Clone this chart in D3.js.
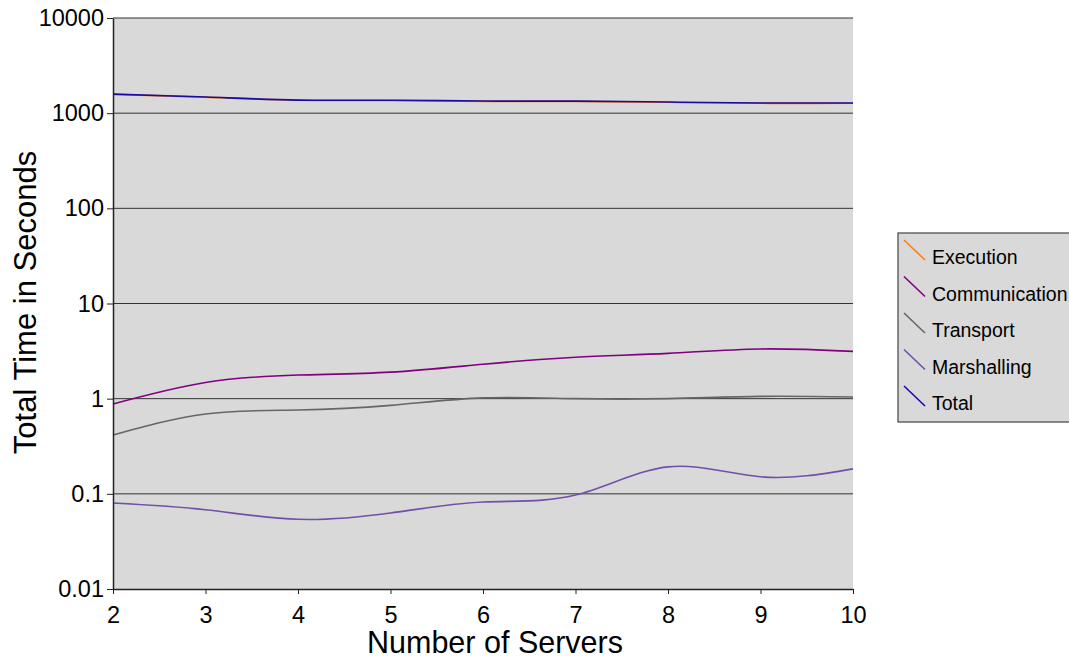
<!DOCTYPE html>
<html lang="en">
<head>
    <meta charset="UTF-8">
    <title>total_time</title>
    <script src="https://cdn.jsdelivr.net/npm/d3@7"></script>
    <style>
        body { margin: 0; background: #fff; }
        text { font-family: "Liberation Sans", Arial, Helvetica, sans-serif; }
    </style>
</head>
<body>
    <svg width="1069" height="657" id="mainsvg"></svg>
    <script>
        // servers on the x axis
        const servers = [2, 3, 4, 5, 6, 7, 8, 9, 10];
        // seconds
        const execution     = [1575, 1475, 1365, 1360, 1330, 1330, 1300, 1270, 1270];
        const communication = [0.88, 1.48, 1.77, 1.9, 2.3, 2.72, 2.99, 3.33, 3.14];
        const transport     = [0.415, 0.69, 0.76, 0.85, 1.02, 1.0, 1.0, 1.057, 1.04];
        const marshalling   = [0.080, 0.068, 0.054, 0.063, 0.082, 0.097, 0.192, 0.151, 0.183];
        const total         = [1585, 1480, 1372, 1368, 1340, 1338, 1308, 1280, 1278];

        const seriesNames  = ['Execution', 'Communication', 'Transport', 'Marshalling', 'Total'];
        const seriesColors = ['#ff7f0e', '#800080', '#666666', '#7050a8', '#1a0aa8'];
        const yTicks = [0.01, 0.1, 1, 10, 100, 1000, 10000];
        const yTickLabels = ['0.01', '0.1', '1', '10', '100', '1000', '10000'];

        const series = [execution, communication, transport, marshalling, total];

        const svg = d3.select('svg');
        const margin = {top: 18, left: 113};
        const innerWidth = 740;
        const innerHeight = 571;
        const g = svg.append('g').attr('transform', `translate(${margin.left}, ${margin.top})`);

        const xScale = d3.scaleLinear().domain([2, 10]).range([0, innerWidth]);
        const yScale = d3.scaleLog().domain([0.01, 10000]).range([innerHeight, 0]);

        g.append('rect')
            .attr('width', innerWidth).attr('height', innerHeight)
            .attr('fill', '#d9d9d9');

        // grid lines
        g.selectAll('.grid').data(yTicks.slice(1)).enter().append('line')
            .attr('class', 'grid')
            .attr('x1', 0).attr('x2', innerWidth)
            .attr('y1', d => yScale(d)).attr('y2', d => yScale(d))
            .attr('stroke', '#333').attr('stroke-width', 1);

        // spline through the points, like the original chart tool
        const line = d3.line()
            .x((d, i) => xScale(servers[i]))
            .y(d => yScale(d))
            .curve(d3.curveNatural);

        g.selectAll('.series').data(series).enter().append('path')
            .attr('class', 'series')
            .attr('d', d => line(d))
            .attr('fill', 'none')
            .attr('stroke', (d, i) => seriesColors[i])
            .attr('stroke-width', 1.6);

        const xAxis = d3.axisBottom(xScale).tickValues(servers).tickSize(5).tickSizeOuter(0).tickFormat(d3.format('d'));
        const yAxis = d3.axisLeft(yScale).tickValues(yTicks).tickSize(6).tickSizeOuter(0)
            .tickFormat((d, i) => yTickLabels[i]);

        const xAxisGroup = g.append('g').attr('transform', `translate(0, ${innerHeight})`).call(xAxis);
        const yAxisGroup = g.append('g').call(yAxis);

        [xAxisGroup, yAxisGroup].forEach(ax => {
            ax.attr('font-family', null).attr('font-size', null);
            ax.select('.domain').attr('stroke', '#222').attr('stroke-width', 1.5);
            ax.selectAll('.tick line').attr('stroke', '#222');
            ax.selectAll('.tick text').attr('fill', '#000').style('font-size', '23.5px');
        });
        xAxisGroup.selectAll('.tick text').attr('y', 17).attr('dy', '0.72em');
        yAxisGroup.selectAll('.tick text').attr('x', -9);

        // axis titles
        svg.append('text')
            .attr('x', 495).attr('y', 653)
            .attr('text-anchor', 'middle').attr('font-size', '30.5px')
            .text('Number of Servers');
        svg.append('text')
            .attr('transform', `translate(36, ${margin.top + innerHeight / 2 - 1}) rotate(-90)`)
            .attr('text-anchor', 'middle').attr('font-size', '31px')
            .text('Total Time in Seconds');

        // legend
        const legend = svg.append('g').attr('transform', 'translate(898, 233)');
        legend.append('rect')
            .attr('width', 175).attr('height', 189)
            .attr('fill', '#d9d9d9').attr('stroke', '#444').attr('stroke-width', 1.2);
        const items = legend.selectAll('.item').data(seriesNames).enter().append('g')
            .attr('class', 'item')
            .attr('transform', (d, i) => `translate(0, ${i * 36.5})`);
        items.append('line')
            .attr('x1', 6).attr('y1', 7).attr('x2', 27).attr('y2', 27)
            .attr('stroke', (d, i) => seriesColors[i]).attr('stroke-width', 1.6);
        items.append('text')
            .attr('x', 34).attr('y', 31)
            .attr('font-size', '19.5px').attr('fill', '#000')
            .text(d => d);
    </script>
</body>
</html>
